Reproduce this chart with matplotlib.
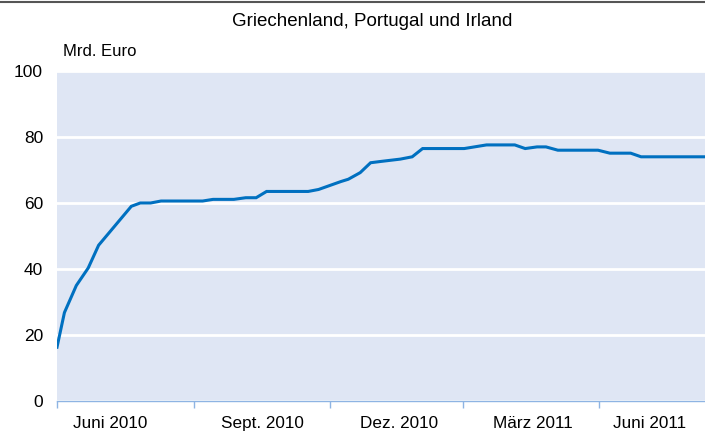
import numpy as np
import matplotlib
matplotlib.use('Agg')
import matplotlib.pyplot as plt
from matplotlib.lines import Line2D

plt.rcParams['font.family'] = ['Liberation Sans', 'DejaVu Sans']

# Mrd. Euro
dates = ['2010-05-01', '2010-05-06', '2010-05-14', '2010-05-22', '2010-05-29',
         '2010-06-20', '2010-06-26', '2010-07-03', '2010-07-10', '2010-08-07',
         '2010-08-14', '2010-08-28', '2010-09-05', '2010-09-12', '2010-09-19',
         '2010-10-17', '2010-10-24', '2010-11-08', '2010-11-13', '2010-11-21',
         '2010-11-28', '2010-12-05', '2010-12-18', '2010-12-26', '2011-01-02',
         '2011-01-30', '2011-02-14', '2011-03-05', '2011-03-12', '2011-03-20',
         '2011-03-26', '2011-04-03', '2011-04-30', '2011-05-08', '2011-05-22',
         '2011-05-29', '2011-07-11']
values = [16.3, 26.8, 35.0, 40.3, 47.2,
          59.0, 60.0, 60.0, 60.6, 60.6,
          61.1, 61.1, 61.6, 61.6, 63.5,
          63.5, 64.1, 66.5, 67.2, 69.2,
          72.2, 72.6, 73.3, 74.0, 76.5,
          76.5, 77.6, 77.6, 76.5, 77.0,
          77.0, 76.0, 76.0, 75.1, 75.1,
          74.0, 74.0]

tick_dates = ['2010-05-01', '2010-08-01', '2010-11-01', '2011-01-29', '2011-05-01']
label_dates = ['2010-06-06', '2010-09-16', '2010-12-17', '2011-03-17', '2011-06-04']
labels = ['Juni 2010', 'Sept. 2010', 'Dez. 2010', 'März 2011', 'Juni 2011']

x = np.array(dates, dtype='datetime64[D]').astype('O')
ticks = np.array(tick_dates, dtype='datetime64[D]').astype('O')
lab_x = np.array(label_dates, dtype='datetime64[D]').astype('O')

fig = plt.figure(figsize=(7.05, 4.32), dpi=100)
ax = fig.add_axes([57 / 705, 31 / 432, 1 - 57 / 705, 330 / 432])
ax.set_facecolor('#dfe6f4')

ax.plot(x, values, color='#0070c0', lw=2.2, solid_joinstyle='miter')

ax.set_ylim(0, 100)
ax.set_xlim(np.datetime64('2010-05-01').astype('O'), np.datetime64('2011-07-11').astype('O'))
ax.set_yticks([0, 20, 40, 60, 80, 100])
ax.yaxis.grid(True, color='white', lw=2)
ax.set_axisbelow(True)
ax.tick_params(axis='y', length=0, labelsize=12.5, pad=10)

ax.set_xticks(ticks)
ax.set_xticklabels([])
ax.tick_params(axis='x', length=5, color='#8eb4e3', width=1)
ax.set_xticks(lab_x, minor=True)
ax.set_xticklabels(labels, minor=True)
ax.tick_params(axis='x', which='minor', length=0, labelsize=12.3, pad=11)

for s in ['top', 'right', 'left']:
    ax.spines[s].set_visible(False)
ax.spines['bottom'].set_color('#8eb4e3')
ax.spines['bottom'].set_linewidth(1)

fig.text(372 / 705, 1 - 22 / 432, 'Griechenland, Portugal und Irland', ha='center', va='center', fontsize=13.5)
fig.text(63 / 705, 1 - 51 / 432, 'Mrd. Euro', ha='left', va='center', fontsize=12)
fig.add_artist(Line2D([0, 1], [1 - 2 / 432, 1 - 2 / 432], color='#555555', lw=1.5, transform=fig.transFigure))

fig.savefig('out.png', dpi=100)
